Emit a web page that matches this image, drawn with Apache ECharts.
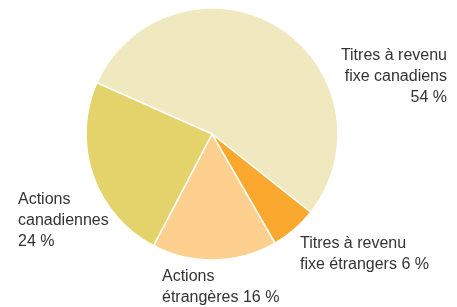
<!DOCTYPE html>
<html>
<head>
<meta charset="utf-8">
<script src="https://cdn.jsdelivr.net/npm/echarts@6/dist/echarts.min.js"></script>
<style>html,body{margin:0;padding:0;background:#fff;}#c{width:457px;height:307px;}</style>
</head>
<body>
<div id="c"></div>
<script>
const categories = ["Titres à revenu\nfixe canadiens", "Titres à revenu\nfixe étrangers", "Actions\nétrangères", "Actions\ncanadiennes"];
const values = [54, 6, 16, 24];
const labelTexts = ["Titres à revenu\nfixe canadiens\n54 %", "Titres à revenu\nfixe étrangers 6 %", "Actions\nétrangères 16 %", "Actions\ncanadiennes\n24 %"];
const colors = ["#F0E9C0", "#FBA92E", "#FDD08F", "#E3D36A"];
const labelPos = [
  {x: 447, y: 45, align: 'right'},
  {x: 300, y: 233, align: 'left'},
  {x: 162, y: 266, align: 'left'},
  {x: 18, y: 189, align: 'left'}
];

const chart = echarts.init(document.getElementById('c'), null, {renderer: 'canvas'});
chart.setOption({
  animation: false,
  series: [{
    type: 'pie',
    center: [212, 134],
    radius: 126,
    startAngle: 156,
    clockwise: true,
    data: categories.map((c, i) => ({
      name: c,
      value: values[i],
      itemStyle: {color: colors[i]},
      label: {formatter: labelTexts[i], align: labelPos[i].align}
    })),
    itemStyle: {borderColor: '#fff', borderWidth: 1.5},
    label: {
      show: true,
      position: 'outside',
      overflow: 'none',
      width: 200,
      fontFamily: 'Liberation Sans, Arial, sans-serif',
      fontSize: 16,
      lineHeight: 21,
      color: '#333'
    },
    labelLine: {show: false},
    labelLayout: function (p) {
      const lp = labelPos[p.dataIndex];
      return {x: lp.x, y: lp.y, align: lp.align, verticalAlign: 'top'};
    },
    emphasis: {disabled: true}
  }]
});
</script>
</body>
</html>
